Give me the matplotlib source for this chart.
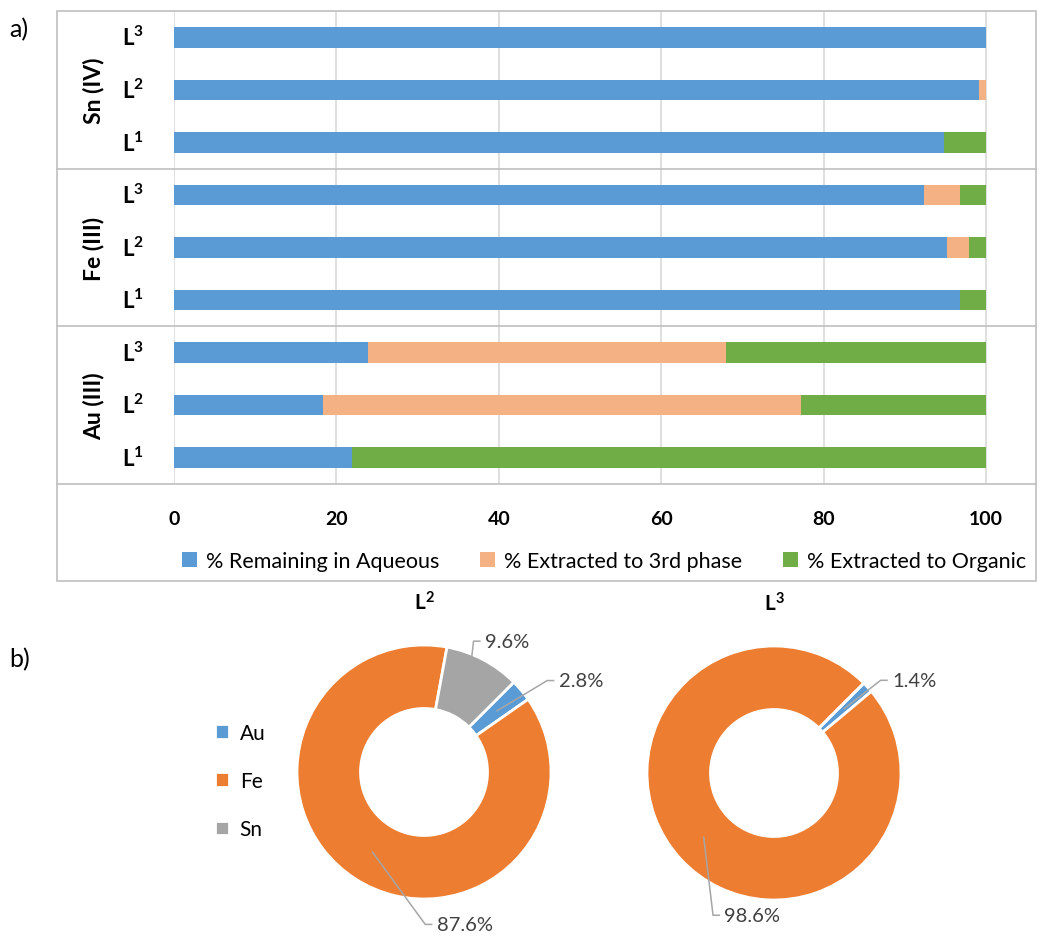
import matplotlib
matplotlib.use("Agg")
import matplotlib.pyplot as plt
import numpy as np
from matplotlib.patches import Rectangle

plt.rcParams['font.family'] = ['Lato', 'DejaVu Sans']
plt.rcParams['mathtext.fontset'] = 'custom'
plt.rcParams['mathtext.rm'] = 'Lato'
plt.rcParams['mathtext.bf'] = 'Lato:bold'

# --- a) extraction per metal / ligand ---
metals = ['Au (III)', 'Fe (III)', 'Sn (IV)']
ligands = [r'$\mathbf{L^{1}}$', r'$\mathbf{L^{2}}$', r'$\mathbf{L^{3}}$']
# rows ordered bottom to top: Au L1..L3, Fe L1..L3, Sn L1..L3
aqueous = [21.9, 18.4, 23.9, 96.8, 95.2, 92.4, 94.8, 99.1, 100.0]
third_phase = [0.0, 58.8, 44.1, 0.0, 2.7, 4.4, 0.0, 0.9, 0.0]
organic = [78.1, 22.8, 32.0, 3.2, 2.1, 3.2, 5.2, 0.0, 0.0]
series_names = ['% Remaining in Aqueous', '% Extracted to 3rd phase', '% Extracted to Organic']
bar_colors = ['#5B9BD5', '#F4B183', '#70AD47']

# --- b) share of each metal in the 3rd phase ---
pie_metals = ['Au', 'Fe', 'Sn']
share_L2 = [2.8, 87.6, 9.6]
share_L3 = [1.4, 98.6, 0.0]
pie_colors = ['#5B9BD5', '#ED7D31', '#A5A5A5']

W, H = 1043, 937
fig = plt.figure(figsize=(W / 100, H / 100), dpi=100)


def fx(px):
    return px / W


def fy(py):
    return 1 - py / H


# outer frame of the bar chart
frame = Rectangle((fx(57), fy(582)), fx(1036) - fx(57), fy(12) - fy(582),
                  transform=fig.transFigure, fill=False, edgecolor='#BFBFBF', lw=1.2)
fig.patches.append(frame)

ax = fig.add_axes([fx(174), fy(485), fx(1036) - fx(174), fy(12) - fy(485)])
y = np.arange(len(aqueous))
left = np.zeros(len(aqueous))
for vals, name, col in zip([aqueous, third_phase, organic], series_names, bar_colors):
    ax.barh(y, vals, left=left, height=0.39, color=col, label=name, zorder=3)
    left += np.array(vals)

ax.set_xlim(0, 862 / 8.12)
ax.set_ylim(-0.5, len(aqueous) - 0.5)
ax.set_xticks([0, 20, 40, 60, 80, 100])
ax.set_xticklabels(['0', '20', '40', '60', '80', '100'], fontweight='bold', fontsize=14)
ax.tick_params(axis='x', length=0, pad=19)
ax.set_yticks([])
for s in ax.spines.values():
    s.set_visible(False)
for xv in [0, 20, 40, 60, 80, 100]:
    ax.axvline(xv, color='#D9D9D9', lw=1.2, zorder=1)

# group separators run across the label column too
x0 = (57 - 174) / 862
for yb in [-0.5, 2.5, 5.5]:
    ax.axhline(yb, xmin=x0, xmax=1, color='#BFBFBF', lw=1.2, clip_on=False, zorder=2)

for i in range(len(aqueous)):
    ax.text(-41 / 8.12, i, ligands[i % 3], ha='center', va='center', fontsize=16)
for g, m in enumerate(metals):
    ax.text(-80 / 8.12, g * 3 + 1, m, ha='center', va='center', rotation=90,
            fontsize=16.5, fontweight='bold')

handles, labels = ax.get_legend_handles_labels()
fig.legend(handles, labels, loc='center', bbox_to_anchor=(fx(604), fy(562)), ncol=3,
           frameon=False, fontsize=15.5, handlelength=0.7, handleheight=0.7,
           handletextpad=0.4, columnspacing=1.9)

fig.text(fx(9), fy(30), 'a)', fontsize=18, va='center')
fig.text(fx(9), fy(660), 'b)', fontsize=18, va='center')


def donut(cx, cy, values, title):
    half = 170
    a = fig.add_axes([fx(cx - half), fy(cy + half), 2 * half / W, 2 * half / H])
    wedges, _ = a.pie(values, colors=pie_colors, startangle=45, counterclock=False,
                      radius=1, wedgeprops=dict(width=0.5, edgecolor='white', linewidth=2))
    lim = half / 127
    a.set_xlim(-lim, lim)
    a.set_ylim(-lim, lim)
    a.set_aspect('equal')
    a.axis('off')
    a.set_title(title, fontsize=15, y=(lim + 1.27) / (2 * lim), va='center')
    return a, wedges


def leader(a, wedge, value, tx, ty, side=1):
    mid = np.deg2rad((wedge.theta1 + wedge.theta2) / 2)
    sx, sy = 0.75 * np.cos(mid), 0.75 * np.sin(mid)
    ex = tx - side * 0.09
    a.plot([sx, ex, tx - side * 0.04], [sy, ty, ty], color='#A6A6A6', lw=1.1,
           clip_on=False, zorder=5)
    a.text(tx, ty, f'{value:.1f}%', ha='left' if side > 0 else 'right', va='center',
           fontsize=14.5, color='#404040', clip_on=False)


a2, w2 = donut(424, 773, share_L2, r'$\mathbf{L^{2}}$')
leader(a2, w2[2], share_L2[2], 0.48, 1.03)
leader(a2, w2[0], share_L2[0], 1.06, 0.72)
leader(a2, w2[1], share_L2[1], 0.10, -1.20)

a3, w3 = donut(774, 774, share_L3, r'$\mathbf{L^{3}}$')
leader(a3, w3[0], share_L3[0], 0.93, 0.73)
leader(a3, w3[1], share_L3[1], -0.39, -1.12)

fig.legend(w2, pie_metals, loc='center left', bbox_to_anchor=(fx(196), fy(782)),
           frameon=False, fontsize=15, handlelength=0.7, handleheight=0.7,
           handletextpad=0.5, labelspacing=1.35)

fig.savefig('out.png', dpi=100)
